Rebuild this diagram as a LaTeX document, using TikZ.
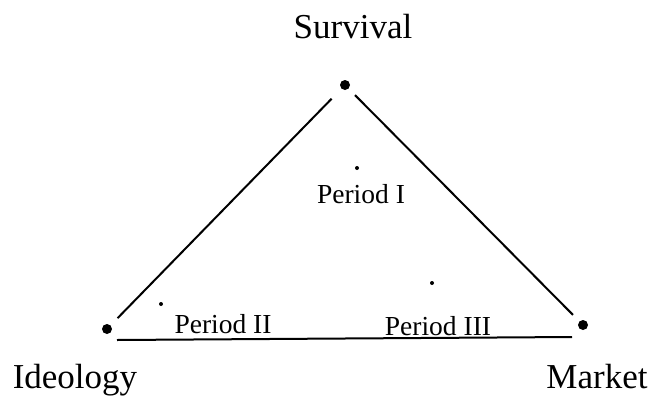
\documentclass[tikz,border=0pt]{standalone}
\usepackage{fontspec}
\setmainfont{Liberation Serif}
\usepackage{tikz}
\usetikzlibrary{positioning}

\begin{document}
\begin{tikzpicture}[
    x=1pt, y=-1pt,
    corner/.style={circle, fill=black, inner sep=0pt, minimum size=10pt},
    phase/.style={circle, fill=black, inner sep=0pt, minimum size=4pt},
    pole/.style={anchor=base, font=\fontsize{35}{40}\selectfont, inner sep=0pt},
    era/.style={anchor=base, font=\fontsize{27.5}{32}\selectfont, inner sep=0pt},
    edge/.style={line width=2pt, draw=black},
  ]
  \useasboundingbox (0,0) rectangle (654,397);
  % the three corners
  \node[corner] (surv) at (345,85) {};
  \node[corner] (ideo) at (107,329) {};
  \node[corner] (mark) at (583,325) {};
  \node[pole] (survtext) at (353,38) {Survival};
  \node[pole] (ideotext) at (75,388) {Ideology};
  \node[pole] (marktext) at (597,388) {Market};
  % sides
  \draw[edge, shorten <=10pt, shorten >=14pt] (ideo) -- (surv);
  \draw[edge, shorten <=9pt, shorten >=9pt] (surv) -- (mark);
  \coordinate (basel) at (117,340);
  \coordinate (baser) at (572,337);
  \draw[edge] (basel) -- (baser);
  % periods
  \node[phase] (p1) at (357,168) {};
  \node[phase] (p2) at (161,304) {};
  \node[phase] (p3) at (432,283) {};
  \node[era] (p1text) at (361,203) {Period I};
  \node[era] (p2text) at (223,333) {Period II};
  \node[era] (p3text) at (438,335) {Period III};
\end{tikzpicture}
\end{document}
